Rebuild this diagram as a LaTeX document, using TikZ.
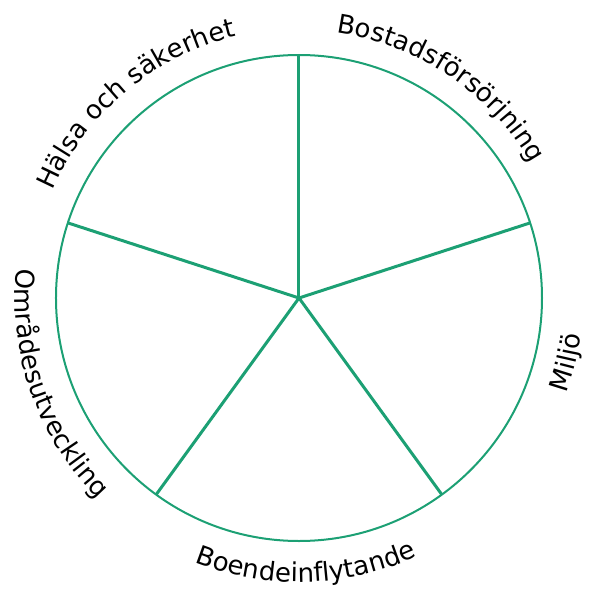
\documentclass[tikz,border=0pt]{standalone}
\usepackage{fontspec}
\usetikzlibrary{decorations.text}
\newfontfamily\wheelfont{DejaVu Sans}
\definecolor{WheelGreen}{RGB}{28,160,116}

\begin{document}
\begin{tikzpicture}[
        x=1pt, y=1pt,
        ring/.style={
            draw=WheelGreen,
            line width=2pt
        },
        spoke/.style={
            draw=WheelGreen,
            line width=3pt
        },
        arclabel/.style={
            decorate,
            decoration={
                text along path,
                text align=center,
                text={|\wheelfont\fontsize{26}{26}\selectfont|#1}
            }
        }
    ]
        \useasboundingbox (-299,-294) rectangle (290,298);
        \coordinate (hub) at (0,0);
        \draw[ring] (hub) circle (243pt);
        \foreach \ang [count=\i] in {90,18,-54,-126,162} {
            \coordinate (rim\i) at (\ang:243pt);
            \draw[spoke] (hub) -- (rim\i);
        }

        \path[arclabel={Hälsa och säkerhet}] (190:269pt) arc[start angle=190, end angle=70, radius=269pt];
        \path[arclabel={Bostadsförsörjning}] (116:268pt) arc[start angle=116, end angle=-4, radius=268pt];
        \path[arclabel={Miljö}] (-73.5:284pt) arc[start angle=-73.5, end angle=46.5, radius=284pt];
        \path[arclabel={Boendeinflytande}] (-148.5:284pt) arc[start angle=-148.5, end angle=-28.5, radius=284pt];
        \path[arclabel={Områdesutveckling}] (139.5:284pt) arc[start angle=139.5, end angle=259.5, radius=284pt];
    \end{tikzpicture}
\end{document}
